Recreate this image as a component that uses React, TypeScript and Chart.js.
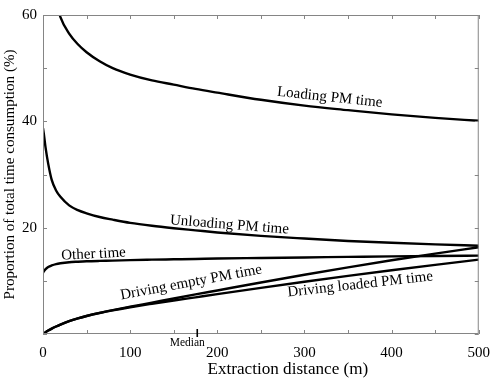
import { useEffect, useRef } from "react";
import { Chart, registerables } from "chart.js";

Chart.register(...registerables);

// Extraction distance (m)
const distances = [0, 1, 3, 6, 10, 15, 20, 30, 40, 50, 65, 80, 100, 125, 150, 175, 200, 250, 300, 350, 400, 450, 500];

// Proportion of total time consumption (%)
const loadingPM = [null, null, null, null, 66.5, 62.6, 59.6, 56.5, 54.5, 53.0, 51.3, 50.0, 48.8, 47.7, 46.9, 46.1, 45.4, 44.05, 42.95, 42.1, 41.3, 40.65, 40.1];
const unloadingPM = [38.7, 37.6, 35.0, 32.0, 29.0, 27.0, 25.8, 24.2, 23.3, 22.7, 22.0, 21.5, 20.9, 20.35, 19.9, 19.5, 19.1, 18.45, 17.95, 17.5, 17.15, 16.85, 16.6];
const otherTime = [11.5, 11.8, 12.2, 12.6, 12.9, 13.15, 13.3, 13.5, 13.6, 13.68, 13.75, 13.8, 13.9, 13.98, 14.05, 14.12, 14.2, 14.3, 14.4, 14.5, 14.6, 14.68, 14.75];
const drivingEmptyPM = [0, 0.13, 0.35, 0.65, 1.01, 1.41, 1.77, 2.41, 2.93, 3.38, 3.97, 4.49, 5.13, 5.9, 6.68, 7.44, 8.19, 9.69, 11.14, 12.54, 13.87, 15.12, 16.32];
const drivingLoadedPM = [0, 0.13, 0.35, 0.65, 1.01, 1.41, 1.77, 2.41, 2.93, 3.38, 3.95, 4.45, 5.03, 5.68, 6.3, 6.9, 7.5, 8.68, 9.83, 10.93, 11.98, 13.0, 14.0];

const seriesNames = ["Loading PM time", "Unloading PM time", "Other time", "Driving empty PM time", "Driving loaded PM time"];

// label anchors in data coordinates [distance, percent, rotationDeg]
const labelAnchors: [number, number, number][] = [
  [329, 44.5, 6],
  [214, 20.5, 4.5],
  [58, 15.0, -3],
  [170, 9.7, -10.5],
  [364, 9.3, -6.4],
];

const medianDistance = 177;

const xTicks = [0, 100, 200, 300, 400, 500];
const yTicks = [20, 40, 60];

const xTitle = "Extraction distance (m)";
const yTitle = "Proportion of total time consumption (%)";

const SERIF = "'Liberation Serif', 'Times New Roman', serif";
const AXIS_GRAY = "#858585";

const toPoints = (vals: (number | null)[]) => distances.map((d, i) => ({ x: d, y: vals[i] }));

function fitFont(ctx: CanvasRenderingContext2D, text: string, base: number, targetWidth: number) {
  ctx.font = `${base}px ${SERIF}`;
  const w = ctx.measureText(text).width;
  const size = w > 0 ? (base * targetWidth) / w : base;
  ctx.font = `${size.toFixed(2)}px ${SERIF}`;
}

export default function App() {
  const ref = useRef<HTMLCanvasElement | null>(null);

  useEffect(() => {
    if (!ref.current) return;
    const allSeries = [loadingPM, unloadingPM, otherTime, drivingEmptyPM, drivingLoadedPM];

    const decor = {
      id: "decor",
      afterDraw(chart: any) {
        const { ctx, chartArea, scales } = chart;
        const xs = scales.x;
        const ys = scales.y;
        const { left, right, top, bottom } = chartArea;
        ctx.save();
        // frame
        ctx.strokeStyle = AXIS_GRAY;
        ctx.lineWidth = 1;
        ctx.strokeRect(left + 0.5, top + 0.5, right - left - 1, bottom - top - 1);
        // inward ticks
        ctx.beginPath();
        for (let v = 0; v <= 500; v += 50) {
          const px = Math.round(xs.getPixelForValue(v)) + 0.5;
          ctx.moveTo(px, bottom);
          ctx.lineTo(px, bottom - 4);
          ctx.moveTo(px, top);
          ctx.lineTo(px, top + 4);
        }
        for (let v = 0; v <= 60; v += 10) {
          const py = Math.round(ys.getPixelForValue(v)) + 0.5;
          ctx.moveTo(left, py);
          ctx.lineTo(left + 4, py);
          ctx.moveTo(right, py);
          ctx.lineTo(right - 4, py);
        }
        ctx.stroke();
        // median marker
        const mx = xs.getPixelForValue(medianDistance);
        ctx.strokeStyle = "#000";
        ctx.lineWidth = 1.6;
        ctx.beginPath();
        ctx.moveTo(mx, bottom - 5);
        ctx.lineTo(mx, bottom + 3);
        ctx.stroke();
        ctx.fillStyle = "#000";
        ctx.font = `11.5px ${SERIF}`;
        ctx.textAlign = "center";
        ctx.textBaseline = "middle";
        ctx.fillText("Median", mx - 10, bottom + 9);
        // x axis title
        fitFont(ctx, xTitle, 17, 161);
        ctx.fillText(xTitle, (left + right) / 2 + 27, 369);
        // y axis title
        fitFont(ctx, yTitle, 15, 250);
        ctx.save();
        ctx.translate(10, (top + bottom) / 2);
        ctx.rotate(-Math.PI / 2);
        ctx.fillText(yTitle, 0, 0);
        ctx.restore();
        // curve labels
        ctx.font = `15px ${SERIF}`;
        labelAnchors.forEach(([dx, dy, rot], i) => {
          const px = xs.getPixelForValue(dx);
          const py = ys.getPixelForValue(dy);
          ctx.save();
          ctx.translate(px, py);
          ctx.rotate((rot * Math.PI) / 180);
          ctx.fillText(seriesNames[i], 0, 0);
          ctx.restore();
        });
        ctx.restore();
      },
    };

    const chart = new Chart(ref.current, {
      type: "line",
      data: {
        datasets: allSeries.map((vals, i) => ({
          label: seriesNames[i],
          data: toPoints(vals),
          borderColor: "#000",
          borderWidth: 2.4,
          pointRadius: 0,
          fill: false,
          cubicInterpolationMode: "monotone" as const,
          spanGaps: false,
        })),
      },
      options: {
        animation: false,
        responsive: false,
        layout: { padding: { top: 10, right: 13, left: 0, bottom: 0 } },
        plugins: { legend: { display: false }, tooltip: { enabled: false } },
        scales: {
          x: {
            type: "linear",
            min: 0,
            max: 500,
            border: { display: false },
            grid: { display: false, drawTicks: false },
            afterBuildTicks: (s: any) => {
              s.ticks = xTicks.map((v) => ({ value: v }));
            },
            ticks: {
              autoSkip: false,
              maxRotation: 0,
              padding: 10,
              color: "#000",
              font: { family: SERIF, size: 15 },
              callback: (v: any) => String(v),
            },
            afterFit: (s: any) => {
              s.height = 51;
            },
          },
          y: {
            type: "linear",
            min: 0,
            max: 60,
            border: { display: false },
            grid: { display: false, drawTicks: false },
            afterBuildTicks: (s: any) => {
              s.ticks = yTicks.map((v) => ({ value: v }));
            },
            ticks: {
              autoSkip: false,
              padding: 6,
              color: "#000",
              font: { family: SERIF, size: 15 },
              callback: (v: any) => String(v),
            },
            afterFit: (s: any) => {
              s.width = 43;
            },
          },
        },
      },
      plugins: [decor],
    });
    return () => chart.destroy();
  }, []);

  return (
    <div style={{ position: "absolute", left: 0, top: 0, width: 500, height: 385, background: "#fff" }}>
      <canvas ref={ref} width={500} height={385} style={{ display: "block" }} />
    </div>
  );
}
